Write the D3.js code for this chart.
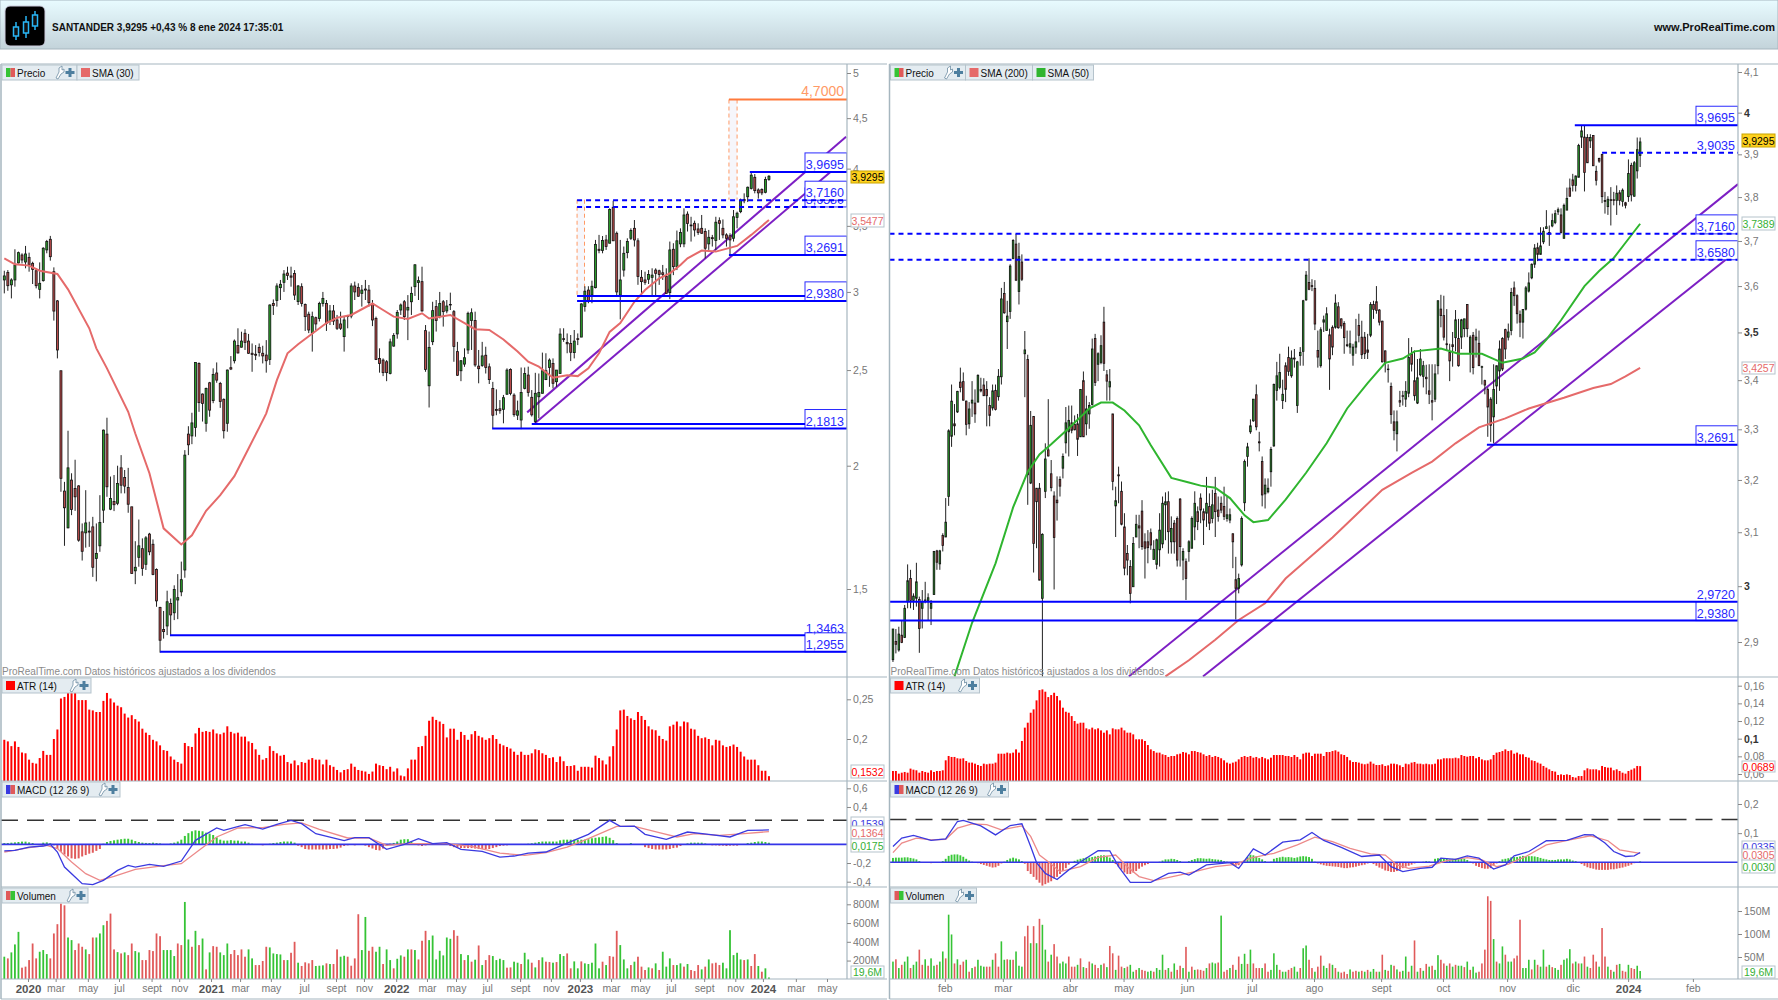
<!DOCTYPE html>
<html>
<head>
<meta charset="utf-8">
<script src="https://cdn.jsdelivr.net/npm/d3@7"></script>
<style>
  body { margin: 0; background: #fff; }
  text { font-family: "Liberation Sans", Arial, sans-serif; }
</style>
</head>
<body>
<div id="chart"></div>
<script>
// ---- weekly chart (left), one row per week: open, high, low, close
var leftOhlc = [
[3.085,3.152,2.99,3.114],[3.14,3.157,3.008,3.044],[3.05,3.097,2.955,3.085],[3.085,3.314,3.037,3.194],[3.21,3.296,3.206,3.288],[3.27,3.283,3.206,3.232],[3.217,3.34,3.17,3.278],[3.252,3.288,3.145,3.194],[3.207,3.219,3.056,3.162],[3.152,3.17,3.025,3.044],
[3.018,3.214,2.955,3.061],[3.08,3.33,3.073,3.322],[3.309,3.387,3.283,3.374],[3.392,3.419,3.227,3.257],[3.145,3.177,2.806,2.869],[2.938,2.944,2.569,2.62],[2.496,2.496,1.882,1.942],[1.885,1.926,1.659,1.813],[1.73,2.17,1.728,1.99],[1.934,1.965,1.782,1.806],
[1.896,2.028,1.8,1.86],[1.908,1.911,1.675,1.681],[1.714,1.748,1.603,1.638],[1.71,1.889,1.652,1.75],[1.717,1.755,1.655,1.713],[1.734,1.775,1.543,1.578],[1.611,1.748,1.527,1.63],[1.659,1.867,1.636,1.752],[1.803,2.176,1.75,2.173],[2.153,2.237,1.86,1.904],
[1.807,1.95,1.803,1.853],[1.84,1.957,1.799,1.826],[1.832,2.0,1.824,1.919],[1.99,2.05,1.875,1.911],[1.946,1.98,1.875,1.907],[1.901,1.99,1.792,1.828],[1.817,1.817,1.555,1.555],[1.565,1.677,1.517,1.578],[1.615,1.764,1.58,1.659],[1.648,1.688,1.547,1.574],
[1.589,1.697,1.568,1.69],[1.705,1.71,1.623,1.636],[1.665,1.684,1.549,1.552],[1.57,1.574,1.439,1.459],[1.437,1.439,1.293,1.331],[1.365,1.425,1.336,1.358],[1.376,1.494,1.347,1.456],[1.45,1.467,1.344,1.412],[1.419,1.513,1.395,1.498],[1.462,1.553,1.398,1.47],
[1.49,1.599,1.475,1.533],[1.568,2.074,1.54,2.05],[2.153,2.193,2.05,2.1],[2.144,2.263,2.103,2.21],[2.187,2.545,2.14,2.545],[2.539,2.545,2.268,2.317],[2.364,2.367,2.217,2.313],[2.208,2.4,2.165,2.395],[2.427,2.432,2.242,2.277],[2.328,2.51,2.314,2.475],
[2.483,2.545,2.427,2.442],[2.423,2.432,2.289,2.323],[2.335,2.34,2.131,2.17],[2.208,2.503,2.165,2.5],[2.514,2.583,2.5,2.506],[2.555,2.685,2.539,2.675],[2.648,2.756,2.598,2.602],[2.637,2.734,2.635,2.675],[2.724,2.75,2.62,2.667],[2.675,2.72,2.596,2.6],
[2.6,2.66,2.49,2.592],[2.594,2.65,2.559,2.588],[2.636,2.66,2.58,2.605],[2.6,2.646,2.539,2.584],[2.589,2.681,2.485,2.555],[2.563,2.914,2.53,2.91],[2.92,2.948,2.843,2.907],[2.94,3.061,2.899,3.042],[3.03,3.085,2.944,3.054],[3.068,3.157,3.0,3.128],
[3.135,3.182,3.085,3.118],[3.114,3.182,3.037,3.105],[3.132,3.157,2.944,2.978],[2.933,3.049,2.91,3.042],[3.037,3.061,2.899,2.92],[2.914,2.92,2.739,2.832],[2.848,2.865,2.725,2.745],[2.725,2.865,2.61,2.832],[2.825,2.832,2.745,2.784],[2.82,2.932,2.8,2.92],
[2.92,3.0,2.899,2.955],[2.92,2.944,2.739,2.788],[2.8,2.91,2.777,2.87],[2.87,2.91,2.777,2.803],[2.81,2.843,2.745,2.756],[2.784,2.865,2.745,2.756],[2.703,2.832,2.61,2.81],[2.832,2.843,2.756,2.836],[2.836,3.061,2.821,3.042],[3.042,3.073,2.944,3.0],
[3.032,3.061,2.967,2.97],[2.99,3.049,2.899,3.013],[3.02,3.085,2.944,3.013],[3.013,3.049,2.899,2.926],[2.92,2.944,2.77,2.81],[2.82,2.832,2.559,2.563],[2.569,2.63,2.485,2.539],[2.559,2.569,2.465,2.485],[2.549,2.559,2.436,2.485],[2.48,2.69,2.475,2.67],
[2.644,2.725,2.64,2.71],[2.72,2.876,2.69,2.86],[2.876,2.92,2.843,2.91],[2.932,2.944,2.81,2.832],[2.876,2.978,2.681,2.894],[2.932,3.037,2.843,2.99],[3.037,3.2,2.972,3.196],[3.067,3.11,2.944,3.08],[3.073,3.182,2.865,2.87],[2.741,2.777,2.49,2.504],
[2.41,2.735,2.291,2.636],[2.671,2.932,2.65,2.872],[2.899,2.944,2.735,2.806],[2.836,3.0,2.821,2.92],[2.932,2.944,2.767,2.865],[2.87,2.944,2.854,2.903],[2.914,2.995,2.876,2.91],[2.865,2.876,2.549,2.642],[2.61,2.67,2.466,2.47],[2.496,2.559,2.436,2.555],
[2.535,2.63,2.519,2.573],[2.62,2.865,2.596,2.854],[2.806,2.887,2.62,2.858],[2.806,2.865,2.519,2.53],[2.523,2.62,2.424,2.508],[2.527,2.67,2.519,2.584],[2.588,2.64,2.48,2.515],[2.519,2.539,2.42,2.445],[2.395,2.432,2.184,2.25],[2.281,2.39,2.25,2.275],
[2.284,2.331,2.258,2.274],[2.281,2.359,2.208,2.344],[2.363,2.51,2.36,2.5],[2.504,2.51,2.357,2.367],[2.358,2.368,2.242,2.253],[2.25,2.328,2.225,2.273],[2.225,2.515,2.178,2.373],[2.395,2.515,2.39,2.48],[2.471,2.52,2.35,2.373],[2.346,2.386,2.243,2.252],
[2.217,2.484,2.208,2.368],[2.349,2.48,2.234,2.372],[2.368,2.604,2.368,2.496],[2.445,2.6,2.442,2.496],[2.515,2.569,2.404,2.559],[2.539,2.569,2.395,2.424],[2.433,2.5,2.404,2.5],[2.48,2.756,2.48,2.719],[2.69,2.756,2.67,2.685],[2.666,2.723,2.6,2.658],
[2.66,2.713,2.553,2.606],[2.604,2.745,2.569,2.675],[2.69,2.723,2.65,2.685],[2.7,2.922,2.7,2.917],[2.9,3.04,2.865,3.005],[3.013,3.04,2.922,2.933],[2.978,3.08,2.922,3.04],[3.03,3.387,3.025,3.352],[3.314,3.427,3.283,3.304],[3.304,3.418,3.283,3.382],
[3.387,3.427,3.309,3.335],[3.361,3.646,3.361,3.637],[3.655,3.711,3.379,3.38],[3.44,3.454,2.978,3.0],[2.978,3.387,2.814,3.085],[3.157,3.335,3.109,3.283],[3.288,3.4,3.245,3.374],[3.4,3.48,3.387,3.462],[3.48,3.548,3.335,3.387],[3.38,3.4,3.05,3.11],
[3.104,3.157,2.99,3.073],[3.085,3.145,3.05,3.068],[3.09,3.157,3.056,3.125],[3.104,3.17,2.978,3.12],[3.157,3.17,2.978,3.133],[3.152,3.16,3.05,3.125],[3.137,3.195,3.085,3.125],[3.11,3.17,2.99,2.99],[2.995,3.374,2.95,3.309],[3.314,3.361,3.12,3.182],
[3.182,3.462,3.157,3.38],[3.356,3.48,3.33,3.447],[3.356,3.646,3.33,3.59],[3.597,3.62,3.454,3.52],[3.507,3.575,3.374,3.5],[3.521,3.543,3.414,3.467],[3.475,3.521,3.427,3.447],[3.48,3.59,3.435,3.44],[3.454,3.48,3.245,3.322],[3.356,3.467,3.309,3.408],
[3.405,3.427,3.335,3.397],[3.382,3.575,3.309,3.53],[3.543,3.57,3.387,3.521],[3.48,3.553,3.4,3.427],[3.427,3.44,3.335,3.4],[3.42,3.44,3.263,3.387],[3.4,3.632,3.374,3.575],[3.57,3.618,3.48,3.605],[3.618,3.73,3.605,3.717],[3.723,3.776,3.69,3.711],
[3.746,3.836,3.7,3.83],[3.82,3.9695,3.81,3.94],[3.92,3.95,3.776,3.8],[3.806,3.82,3.73,3.78],[3.81,3.82,3.76,3.78],[3.785,3.925,3.776,3.9],[3.9,3.94,3.888,3.9295]
];

var leftSmaIdx = [0,3,7,10,15,18,24,26,29,35,37,41,45,50,53,57,61,65,69,72,74,77,80,83,86,91,94,98,104,107,110,114,118,120,126,131,133,137,141,145,148,151,155,159,162,165,168,171,174,178,181,185,188,191,193,197,201,207,211,216];
var leftSmaVal = [3.245,3.2,3.19,3.152,3.128,3.018,2.756,2.63,2.51,2.268,2.156,1.965,1.728,1.664,1.7,1.8,1.867,1.952,2.082,2.186,2.26,2.442,2.6,2.655,2.705,2.79,2.825,2.843,2.92,2.876,2.832,2.817,2.854,2.82,2.843,2.777,2.75,2.745,2.685,2.61,2.549,2.52,2.456,2.47,2.465,2.51,2.6,2.733,2.79,2.932,3.013,3.097,3.133,3.195,3.245,3.304,3.296,3.34,3.427,3.5477];

var leftAtr = [.199,.197,.191,.197,.19,.183,.182,.174,.17,.169,.176,.185,.18,.18,.2,.212,.251,.253,.258,.262,.258,.249,.249,.249,.237,.236,.234,.234,.248,.258,
.251,.246,.242,.24,.232,.227,.23,.225,.222,.213,.208,.205,.199,.197,.192,.186,.185,.178,.174,.171,.169,.195,.191,.19,.207,.214,.209,.21,.209,.212,.207,.206,.208,.216,.209,.207,.208,.203,.203,.197,.195,.187,.18,.174,.176,.191,.185,.182,.179,.18,.171,.169,.173,.167,.171,.17,.174,.176,.174,.174,.168,.174,.167,.165,.161,.158,.161,.162,.169,.165,.161,.16,.159,.156,.159,.169,.167,.166,.162,.165,.159,.163,.154,.153,.163,.174,.174,.19,.191,.204,.223,.228,.224,.222,.219,.202,.213,.213,.199,.209,.205,.199,.206,.21,.204,.202,.199,.201,.205,.2,.194,.192,.19,.188,.184,.18,.184,.18,.18,.182,.187,.186,.182,.18,.176,.177,.171,.178,.172,.166,.166,.167,.16,.165,.165,.165,.164,.179,.176,.173,.168,.178,.191,.212,.236,.237,.229,.226,.224,.234,.229,.224,.216,.212,.211,.204,.2,.198,.216,.218,.222,.216,.222,.221,.213,.212,.204,.201,.202,.2,.192,.199,.198,.192,.19,.191,.193,.19,.184,.178,.174,.174,.174,.167,.16,.16,.1532];

var leftMacdIdx = [0,3,7,11,13,15,17,20,22,25,28,32,35,37,41,45,50,54,60,62,68,73,77,81,84,88,96,99,103,108,113,117,121,125,129,135,140,144,148,153,159,165,171,174,178,181,187,193,199,205,210,216];
var leftMacdVal = [-.071,-.064,-.029,-.018,0,-.082,-.243,-.35,-.421,-.432,-.386,-.279,-.225,-.243,-.214,-.236,-.179,.043,.175,.15,.211,.164,.214,.257,.221,.114,.039,.071,.071,-.054,0,.061,.007,.018,-.054,-.075,-.136,-.125,-.093,-.082,.014,.107,.257,.193,.196,.107,.054,.132,.107,.079,.15,.1539];
var leftSigIdx = [0,2,7,12,15,19,23,27,31,37,45,50,55,60,66,73,79,84,89,97,103,108,114,125,132,140,147,153,159,165,173,178,185,190,195,202,209,216];
var leftSigVal = [-.082,-.071,-.036,-.011,-.046,-.189,-.314,-.386,-.343,-.268,-.229,-.207,-.064,.079,.175,.179,.214,.229,.161,.068,.068,-.011,.007,.007,-.021,-.093,-.118,-.089,-.029,.061,.193,.193,.125,.079,.114,.096,.114,.1364];
var leftHist = [.014,.014,.018,.021,.025,.029,.029,.021,.014,-.004,0,.018,.021,.011,-.011,-.05,-.08,-.11,-.13,-.15,-.155,-.15,-.13,-.115,-.1,-.09,-.07,-.05,.007,.025,.036,.043,.05,.055,.06,.06,.05,.035,.025,.018,.015,.014,.018,.014,.01,.004,.004,.01,.018,.03,.05,.09,.12,.14,.15,.145,.14,.125,.115,.1,.075,.05,.04,.04,.045,.04,.04,.03,.03,.018,.007,0,-.004,-.011,-.007,.007,.014,.018,.025,.03,.03,.03,.018,-.015,-.03,-.05,-.055,-.055,-.055,-.055,-.055,-.055,-.05,-.05,-.045,-.035,-.018,-.011,-.007,-.011,-.004,0,-.014,-.03,-.045,-.06,-.065,-.045,-.018,.007,.015,.03,.05,.055,.055,.03,.007,-.011,-.018,-.011,0,.004,.004,.004,.004,-.007,-.018,-.03,-.035,-.04,-.04,-.04,-.04,-.045,-.05,-.05,-.05,-.05,-.04,-.03,-.018,-.014,-.011,-.007,0,0,.004,.004,.007,.011,.018,.025,.03,.03,.03,.03,.03,.043,.05,.05,.05,.05,.05,.05,.05,.055,.065,.07,.075,.08,.085,.07,.045,.014,0,0,0,.014,0,0,-.007,-.03,-.04,-.05,-.055,-.055,-.055,-.055,-.05,-.04,-.035,-.018,-.004,.011,.018,.018,.018,.018,.01,-.004,-.011,-.011,-.014,-.014,-.018,-.014,-.014,-.014,-.007,.004,.014,.018,.025,.03,.03,.025,.0175];

var leftVol = [241,223,287,372,506,124,135,205,382,223,294,312,269,223,489,588,807,789,446,418,312,382,347,319,269,446,446,489,577,623,701,319,290,276,287,258,382,301,287,205,205,312,301,489,460,312,312,312,248,382,365,825,425,347,517,365,435,106,287,354,347,287,258,382,269,312,258,319,241,319,223,152,152,195,347,340,276,269,265,205,205,283,400,177,142,181,170,205,142,145,149,170,163,163,319,241,251,241,145,223,694,312,665,304,347,294,347,163,319,205,117,219,255,241,319,319,312,212,411,517,418,467,212,304,255,446,432,524,464,269,205,258,188,209,361,152,205,258,248,205,219,205,124,127,188,177,163,283,212,177,127,205,234,188,184,177,184,269,248,276,117,191,117,191,170,163,177,382,117,188,152,248,241,517,365,212,117,152,188,241,135,99,127,117,170,99,294,135,223,152,152,170,135,163,99,88,152,106,135,212,170,177,152,177,117,524,258,283,212,205,212,142,269,142,81,117,19.6];
var leftVolColor = ("GRGGGRRRRR" + "GGGRRRRRGG" + "RRRGRRGGGR" + "RRGRGRRGGR" + "RRRRRGGGGR" + "RGGRGRGRGR" + "RGGGRRRRRG" + "GRRRRGGGGR" + "GRRGRRRRGG" + "GRGRRGGRRR" + "RGGRRGGRGG" + "RGGRGRGRRR" + "GGGGGGGRRG" + "RGRGRGRRGG" + "GGRRGGRGGR" + "GRGRRGRGGR" + "RGGRGGGGGR" + "GRRRGGGRGR" + "RRGRGRGGGR" + "GGRGRRRGRG" + "RRRGGGGGGR" + "GRRGRGG").split("");

// ---- daily chart (right), one row per session: open, high, low, close
var rightOhlc = [
[2.869,2.923,2.865,2.923],[2.901,2.923,2.88,2.896],[2.886,2.927,2.883,2.914],[2.912,2.939,2.898,2.899],[2.908,2.966,2.907,2.96],[2.972,3.04,2.96,3.01],[3.014,3.03,2.96,2.974],[2.974,2.987,2.957,2.982],[2.978,3.043,2.963,3.008],[2.976,2.981,2.881,2.924],
[2.96,2.993,2.924,2.972],[2.974,3.008,2.969,2.975],[2.974,2.987,2.939,2.979],[2.96,2.975,2.93,2.969],[2.985,3.065,2.984,3.064],[3.065,3.067,3.03,3.044],[3.041,3.067,3.03,3.065],[3.094,3.098,3.064,3.075],[3.091,3.165,3.091,3.119],[3.168,3.3,3.15,3.297],
[3.286,3.391,3.265,3.357],[3.311,3.351,3.288,3.307],[3.335,3.378,3.333,3.377],[3.396,3.426,3.375,3.385],[3.397,3.416,3.358,3.359],[3.357,3.358,3.288,3.31],[3.311,3.355,3.301,3.341],[3.353,3.398,3.325,3.359],[3.353,3.381,3.313,3.331],[3.355,3.412,3.355,3.41],
[3.381,3.405,3.375,3.378],[3.39,3.404,3.368,3.368],[3.381,3.398,3.306,3.368],[3.348,3.365,3.306,3.328],[3.343,3.391,3.338,3.378],[3.379,3.391,3.338,3.34],[3.366,3.423,3.358,3.408],[3.407,3.596,3.391,3.572],[3.584,3.609,3.54,3.542],[3.523,3.568,3.465,3.535],
[3.545,3.648,3.529,3.644],[3.661,3.704,3.659,3.701],[3.693,3.716,3.611,3.613],[3.588,3.696,3.56,3.665],[3.653,3.67,3.611,3.615],[3.455,3.503,3.365,3.463],[3.443,3.453,3.152,3.21],[3.194,3.337,3.192,3.308],[3.326,3.326,3.025,3.079],[3.184,3.184,3.07,3.158],
[3.184,3.194,3.011,3.011],[2.978,3.098,2.84,3.096],[3.178,3.272,3.165,3.241],[3.259,3.361,3.246,3.247],[3.212,3.239,3.178,3.185],[3.169,3.178,2.994,3.09],[3.161,3.207,3.122,3.156],[3.201,3.207,3.168,3.188],[3.223,3.252,3.203,3.246],[3.273,3.345,3.252,3.313],
[3.295,3.348,3.246,3.318],[3.313,3.348,3.292,3.298],[3.31,3.328,3.298,3.299],[3.311,3.331,3.247,3.28],[3.285,3.381,3.285,3.381],[3.399,3.418,3.285,3.285],[3.311,3.368,3.288,3.341],[3.331,3.355,3.301,3.348],[3.35,3.487,3.348,3.465],[3.487,3.497,3.388,3.395],
[3.433,3.458,3.398,3.455],[3.437,3.494,3.433,3.472],[3.522,3.555,3.419,3.435],[3.411,3.421,3.358,3.398],[3.386,3.423,3.358,3.397],[3.331,3.331,3.18,3.197],[3.15,3.187,3.091,3.16],[3.21,3.226,3.155,3.208],[3.178,3.197,3.113,3.115],[3.11,3.136,3.02,3.033],
[3.06,3.076,3.02,3.048],[3.036,3.048,2.969,2.987],[2.999,3.091,2.999,3.079],[3.091,3.133,3.091,3.115],[3.112,3.133,3.07,3.108],[3.14,3.161,3.067,3.073],[3.082,3.098,3.014,3.07],[3.082,3.104,3.042,3.071],[3.099,3.107,3.067,3.076],[3.049,3.085,3.049,3.068],
[3.04,3.088,3.031,3.086],[3.067,3.136,3.036,3.104],[3.078,3.168,3.07,3.155],[3.152,3.176,3.085,3.158],[3.158,3.178,3.06,3.101],[3.082,3.13,3.06,3.107],[3.117,3.123,3.06,3.082],[3.126,3.13,3.036,3.048],[3.163,3.165,3.036,3.073],[3.048,3.07,3.011,3.064],
[3.045,3.051,2.975,3.014],[3.064,3.085,3.045,3.082],[3.07,3.13,3.07,3.126],[3.11,3.178,3.085,3.155],[3.139,3.149,3.104,3.12],[3.165,3.174,3.117,3.142],[3.139,3.145,3.076,3.123],[3.136,3.206,3.11,3.155],[3.149,3.174,3.104,3.117],[3.126,3.181,3.117,3.152],
[3.174,3.206,3.091,3.139],[3.142,3.168,3.12,3.13],[3.155,3.168,3.136,3.142],[3.149,3.187,3.123,3.13],[3.126,3.168,3.12,3.133],[3.123,3.145,3.117,3.133],[3.097,3.098,3.033,3.082],[3.012,3.054,2.94,2.996],[2.996,3.023,2.987,3.014],[3.039,3.13,3.036,3.126],
[3.156,3.24,3.14,3.236],[3.246,3.273,3.226,3.265],[3.295,3.32,3.291,3.307],[3.317,3.361,3.315,3.361],[3.37,3.391,3.298,3.305],[3.275,3.295,3.256,3.273],[3.236,3.246,3.149,3.171],[3.173,3.203,3.145,3.19],[3.177,3.203,3.174,3.184],[3.216,3.265,3.187,3.26],
[3.267,3.393,3.265,3.391],[3.379,3.438,3.358,3.409],[3.385,3.455,3.381,3.416],[3.358,3.401,3.341,3.371],[3.43,3.437,3.355,3.381],[3.447,3.47,3.409,3.418],[3.409,3.462,3.405,3.446],[3.446,3.465,3.426,3.444],[3.348,3.44,3.333,3.438],[3.451,3.469,3.43,3.458],
[3.46,3.57,3.43,3.568],[3.57,3.633,3.568,3.624],[3.608,3.661,3.591,3.593],[3.601,3.615,3.589,3.599],[3.595,3.613,3.505,3.518],[3.462,3.504,3.426,3.448],[3.43,3.511,3.426,3.506],[3.522,3.536,3.501,3.527],[3.504,3.554,3.504,3.54],[3.495,3.508,3.38,3.444],
[3.511,3.515,3.452,3.469],[3.511,3.582,3.508,3.563],[3.555,3.565,3.508,3.51],[3.529,3.53,3.508,3.514],[3.519,3.524,3.455,3.489],[3.474,3.504,3.469,3.472],[3.469,3.504,3.455,3.476],[3.452,3.476,3.43,3.469],[3.469,3.529,3.455,3.48],[3.515,3.54,3.479,3.494],
[3.49,3.525,3.444,3.453],[3.49,3.501,3.444,3.455],[3.463,3.497,3.444,3.458],[3.494,3.565,3.49,3.56],[3.56,3.568,3.529,3.549],[3.566,3.6,3.54,3.547],[3.548,3.55,3.515,3.522],[3.524,3.525,3.437,3.438],[3.461,3.462,3.416,3.436],[3.423,3.433,3.395,3.422],
[3.387,3.395,3.311,3.33],[3.315,3.338,3.278,3.298],[3.291,3.338,3.256,3.315],[3.358,3.378,3.345,3.355],[3.368,3.378,3.348,3.367],[3.361,3.398,3.345,3.377],[3.373,3.488,3.365,3.447],[3.455,3.469,3.418,3.433],[3.399,3.462,3.358,3.368],[3.353,3.444,3.351,3.405],
[3.411,3.465,3.408,3.444],[3.408,3.44,3.385,3.43],[3.406,3.432,3.371,3.403],[3.378,3.433,3.351,3.371],[3.358,3.433,3.318,3.355],[3.361,3.433,3.355,3.413],[3.43,3.569,3.412,3.568],[3.55,3.581,3.511,3.536],[3.536,3.579,3.483,3.49],[3.476,3.55,3.462,3.474],
[3.458,3.476,3.398,3.44],[3.474,3.501,3.428,3.47],[3.489,3.548,3.46,3.527],[3.487,3.529,3.428,3.43],[3.49,3.529,3.465,3.527],[3.508,3.529,3.49,3.529],[3.56,3.561,3.49,3.508],[3.458,3.494,3.416,3.49],[3.494,3.501,3.412,3.426],[3.484,3.508,3.447,3.49],
[3.477,3.504,3.43,3.43],[3.428,3.43,3.391,3.428],[3.399,3.401,3.371,3.39],[3.381,3.385,3.285,3.345],[3.361,3.365,3.275,3.308],[3.325,3.433,3.272,3.381],[3.388,3.43,3.351,3.43],[3.419,3.483,3.378,3.465],[3.487,3.49,3.419,3.423],[3.506,3.508,3.444,3.465],
[3.49,3.519,3.483,3.501],[3.504,3.596,3.494,3.586],[3.596,3.61,3.557,3.579],[3.579,3.582,3.519,3.54],[3.538,3.547,3.49,3.522],[3.522,3.55,3.487,3.549],[3.55,3.6,3.547,3.596],[3.589,3.63,3.586,3.607],[3.618,3.65,3.615,3.648],[3.648,3.693,3.64,3.684],
[3.685,3.696,3.655,3.67],[3.67,3.731,3.67,3.689],[3.698,3.731,3.693,3.722],[3.728,3.77,3.727,3.732],[3.719,3.735,3.689,3.715],[3.734,3.762,3.731,3.746],[3.742,3.77,3.738,3.762],[3.766,3.776,3.759,3.771],[3.759,3.774,3.717,3.719],[3.706,3.785,3.706,3.781],
[3.77,3.822,3.771,3.797],[3.821,3.843,3.801,3.802],[3.84,3.854,3.813,3.827],[3.827,3.85,3.813,3.849],[3.846,3.925,3.846,3.921],[3.941,3.968,3.915,3.956],[3.941,3.968,3.813,3.857],[3.94,3.948,3.88,3.88],[3.932,3.948,3.915,3.94],[3.945,3.946,3.873,3.873],
[3.86,3.873,3.827,3.839],[3.89,3.892,3.88,3.884],[3.9,3.9,3.786,3.801],[3.792,3.812,3.762,3.79],[3.778,3.802,3.759,3.795],[3.794,3.823,3.735,3.792],[3.794,3.812,3.781,3.792],[3.792,3.827,3.759,3.809],[3.81,3.816,3.781,3.792],[3.79,3.82,3.778,3.816],
[3.787,3.789,3.774,3.781],[3.801,3.888,3.789,3.855],[3.874,3.88,3.79,3.805],[3.802,3.884,3.801,3.88],[3.861,3.94,3.843,3.911],[3.897,3.94,3.87,3.9295]
];

var rightRedIdx = [93,101,110,118,127,134,142,150,159,167,177,184,192,200,209,217,229,239,245,250,255];
var rightRedVal = [2.84,2.868,2.904,2.939,2.969,3.014,3.052,3.09,3.138,3.181,3.214,3.236,3.272,3.304,3.322,3.342,3.364,3.384,3.392,3.408,3.4257];
var rightGreenIdx = [21,27,35,41,46,50,54,60,67,71,75,79,84,88,95,101,105,110,115,120,123,128,134,141,148,155,162,168,174,178,187,193,201,208,215,219,223,228,236,241,246,250,255];
var rightGreenVal = [2.84,2.934,3.042,3.147,3.216,3.25,3.27,3.302,3.342,3.354,3.354,3.338,3.308,3.268,3.204,3.195,3.189,3.185,3.165,3.132,3.119,3.123,3.162,3.214,3.272,3.342,3.394,3.436,3.445,3.46,3.466,3.455,3.455,3.436,3.445,3.458,3.485,3.526,3.6,3.633,3.662,3.696,3.7389];

var rightAtr = [.0634,.0634,.0604,.0615,.0623,.0615,.0661,.0649,.0642,.0615,.0634,.0623,.0615,.0642,.0623,.0634,.0634,.0642,
.0755,.0804,.0793,.0793,.0778,.0774,.0778,.0747,.0729,.0729,.0717,.0702,.0691,.0717,.071,.0717,.0717,.0729,.083,.083,.083,.0842,.0834,.0842,.0879,.0842,.0974,.1125,.1181,.1294,.1332,.1434,.155,.1558,.1532,.1471,.1494,.152,.1483,.1434,.1351,.1305,.1294,.1256,.12,.117,.1181,.1181,.1117,.1106,.1125,.1106,.1117,.1094,.1068,.1094,.1049,.1117,.1106,.1106,.1125,.1094,.1068,.1068,.1049,.0993,.0993,.0993,.0974,.0928,.0879,.086,.0842,.0842,.0823,.0815,.0793,.0804,.0804,.0823,.083,.0849,.0842,.0823,.086,.086,.0849,.0842,.0823,.0804,.0815,.0793,.0804,.0793,.0778,.0755,.0729,.0717,.0729,.074,.0766,.0793,.0804,.0793,.0804,.0785,.0793,.0778,.0793,.0778,.0766,.0785,.0815,.0815,.0815,.0815,.0804,.0804,.0793,.0815,.0793,.0766,.083,.0842,.0842,.0804,.083,.083,.083,.0804,.0849,.0849,.086,.0868,.0853,.0823,.0815,.0793,.0755,.0736,.0736,.0729,.0717,.071,.0717,.074,.0717,.0702,.0702,.071,.0691,.0698,.0717,.0717,.071,.0698,.0679,.0717,.071,.0729,.0736,.0717,.0717,.071,.0717,.071,.071,.0717,.0766,.0766,.0778,.0778,.0778,.0778,.0785,.0778,.0815,.0804,.0796,.0804,.0804,.0778,.0793,.0766,.0755,.0755,.0766,.0815,.0842,.0849,.086,.0879,.086,.0868,.083,.0842,.0823,.0823,.0793,.0785,.0755,.0747,.0729,.0717,.0691,.0672,.0653,.0634,.0627,.0589,.0596,.0589,.0596,.0589,.0566,.0559,.0577,.0577,.0642,.0664,.0653,.0653,.0653,.0642,.0691,.0679,.0672,.0672,.0642,.0653,.0634,.0615,.0604,.0634,.0649,.0664,.0691,.0689];

var rightMacdIdx = [0,3,7,13,18,22,24,30,35,40,44,47,49,52,56,60,65,70,74,77,81,88,94,98,101,107,115,118,123,127,133,139,143,147,153,160,166,170,174,180,184,187,192,196,200,205,209,212,217,223,230,236,239,243,246,250,253,255];
var rightMacdVal = [.054,.083,.092,.075,.08,.14,.144,.125,.094,.126,.132,.054,-.001,-.038,-.059,-.026,.008,.04,.039,-.015,-.069,-.069,-.038,-.034,-.044,-.009,-.001,-.021,.046,.025,.069,.077,.102,.075,.051,.02,.025,-.015,-.032,-.021,-.017,.014,.01,.022,.014,-.023,-.009,.022,.037,.074,.075,.095,.094,.066,.037,.02,.022,.0335];
var rightSigIdx = [0,3,8,13,18,22,27,32,37,44,47,50,53,57,64,70,76,80,84,89,97,103,110,117,122,130,138,144,150,156,163,168,172,176,183,189,196,201,206,210,216,223,231,238,244,248,255];
var rightSigVal = [.033,.066,.083,.077,.079,.117,.132,.129,.111,.125,.089,.025,.002,-.032,-.015,.017,.025,-.015,-.049,-.063,-.046,-.032,-.015,-.007,.014,.031,.06,.086,.071,.048,.029,.025,-.009,-.021,-.013,.006,.016,.008,-.015,-.006,.02,.06,.077,.091,.074,.043,.0305];
var rightHist = [.015,.016,.016,.016,.017,.017,.015,.013,.01,.004,0,0,-.002,-.003,-.001,.001,0,.004,.012,.022,.026,.027,.027,.024,.019,.012,.006,.002,0,-.003,-.006,-.009,-.012,-.015,-.018,-.017,-.012,-.004,.002,.008,.013,.016,.013,.01,.004,-.005,-.03,-.04,-.05,-.06,-.07,-.08,-.075,-.07,-.065,-.055,-.05,-.04,-.03,-.02,-.008,0,.005,.009,.012,.014,.016,.016,.018,.02,.022,.024,.024,.022,.016,.008,-.006,-.015,-.025,-.035,-.04,-.04,-.035,-.03,-.022,-.015,-.01,-.006,-.002,0,0,.002,.006,.01,.01,.012,.011,.008,.004,0,0,.004,.008,.011,.014,.014,.013,.012,.013,.011,.01,.009,.008,.004,.002,-.002,-.006,-.012,-.01,-.004,.006,.018,.026,.024,.02,.015,.01,.004,0,.002,.012,.015,.017,.019,.017,.018,.017,.015,.017,.02,.021,.02,.018,.012,.002,-.004,-.007,-.01,-.012,-.013,-.014,-.015,-.016,-.018,-.02,-.02,-.018,-.017,-.015,-.012,-.01,-.008,-.004,-.002,-.006,-.012,-.018,-.022,-.028,-.03,-.033,-.033,-.03,-.025,-.02,-.015,-.012,-.008,-.004,0,0,.002,.004,.003,0,.012,.014,.015,.014,.013,.01,.012,.012,.014,.013,.012,.008,.002,-.004,-.012,-.016,-.02,-.022,-.022,-.02,-.012,-.004,.004,.01,.012,.014,.017,.018,.018,.02,.022,.021,.021,.021,.02,.018,.015,.012,.01,.008,.008,.008,.01,.01,.01,.012,.01,.006,.004,0,-.006,-.012,-.017,-.02,-.022,-.025,-.026,-.026,-.026,-.026,-.024,-.024,-.022,-.02,-.018,-.015,-.012,-.008,-.003,0,.003];

var rightVol = [40,45,26,33,40,51,26,33,40,66,
33,45,31,47,31,33,40,62,47,142,
99,36,45,33,40,44,18,26,29,44,
31,29,29,29,44,58,29,84,44,45,
44,44,62,31,29,95,118,80,117,80,
133,120,66,40,55,78,51,36,40,36,
51,29,29,33,47,28,26,40,36,
33,26,33,36,28,74,58,22,53,29,
26,29,33,18,22,26,22,20,18,20,
18,26,22,55,22,26,18,36,22,31,
26,72,18,29,22,23,22,20,26,36,
38,36,38,140,18,22,26,33,22,51,
35,57,35,66,36,26,26,26,36,18,
22,58,33,22,18,18,22,26,29,18,
26,69,75,44,26,18,29,53,31,26,
36,33,26,18,16,18,13,23,18,20,
18,20,18,22,18,24,18,18,55,22,
20,33,31,23,18,20,51,18,31,86,
18,26,20,35,29,31,22,54,44,
36,31,36,29,33,31,31,28,40,22,
29,16,18,36,66,182,172,89,40,36,
73,55,40,40,47,53,131,26,26,44,
23,44,33,29,66,29,33,28,26,22,
33,44,47,67,36,40,36,36,51,
29,26,55,40,29,113,51,29,22,18,
33,35,20,18,33,26,24,31,19.6];
var rightVolColor = ("GRGRGGRGGR" + "RGRGGRGGRG" + "GRGRRGRGRG" + "GGRRGRRGGR" + "GRGGGRRGRG" + "RGGRGRRGGG" + "RRRGRGRRG" + "RRGRGRRGRR" + "GRGGRGRRGG" + "RGGGRGRGRR" + "GRGRGRRRGR" + "GGRGRRGRGR" + "GGRGRRRGRR" + "GGGRGGRRGG" + "RGGRRGRRGG" + "RGRGRRRGRR" + "GRGRGGRGRG" + "RGRGRGGRGR" + "GRGRGRGGR" + "RGRGRGGRGR" + "GGRRRRRGRG" + "GRGGRRRGGG" + "RGRGGRGRGG" + "RGGGRGRGR" + "GRRRGRRGRG" + "RGRRGRRGG").split("");

// ---- tick labels
var leftDateIdx = [6.7,14.5,23.6,32.4,41.6,49.4,58.4,66.6,75.3,84.7,93.7,101.6,110.7,119.4,127.6,136.4,145.7,154.4,162.6,171.4,179.6,188.3,197.7,206.5,214.3,223.6,232.4];
var leftDateText = ["2020","mar","may","jul","sept","nov","2021","mar","may","jul","sept","nov","2022","mar","may","jul","sept","nov","2023","mar","may","jul","sept","nov","2024","mar","may"];
var rightDateIdx = [17.7,37.5,60.4,78.7,100.4,122.5,143.7,166.6,187.7,209.6,232,250.9,273];
var rightDateText = ["feb","mar","abr","may","jun","jul","ago","sept","oct","nov","dic","2024","feb"];

var leftPriceTicks = [5,4.5,4,3.5,3,2.5,2,1.5];
var rightPriceTicks = [4.1,4,3.9,3.8,3.7,3.6,3.5,3.4,3.3,3.2,3.1,3,2.9];
var leftAtrTicks = [.25,.2];
var rightAtrTicks = [.16,.14,.12,.1,.08,.06];
var leftMacdTicks = [.6,.4,-.2,-.4];
var rightMacdTicks = [.2,.1];
var leftVolTicks = [800,600,400,200];
var rightVolTicks = [150,100,50];

// ---- drawn levels and trendlines (price, first bar)
var leftLevels = [1.2955,1.3463,2.1813,2.205,2.938,2.972,3.2691,3.658,3.716,3.9695];
var leftLevelStart = [44,46.8,137.8,149,161.8,161.8,204.7,161.8,161.8,210.6];
var rightLevels = [2.938,2.972,3.2691,3.658,3.716,3.9035,3.9695];
var rightLevelStart = [-2,-2,202.7,-2,-2,242,232.7];
var leftTrend = [[147.7,2.265,237.8,4.31],[149.9,2.208,238,4.1]];
var rightTrend = [[80.5,2.84,288.4,3.83],[105.8,2.84,288.4,3.68]];

var svg = d3.select("#chart").append("svg").attr("width", 1778).attr("height", 1000);
var defs = svg.append("defs");

var headGrad = defs.append("linearGradient").attr("id", "headGrad").attr("x1", 0).attr("y1", 0).attr("x2", 0).attr("y2", 1);
headGrad.append("stop").attr("offset", "0%").attr("stop-color", "#e8fbff");
headGrad.append("stop").attr("offset", "100%").attr("stop-color", "#c3d3da");

var frame = "#a6b6bf", red = "#ff0000", upGreen = "#2db52d", downRed = "#e05a5a", boxBlue = "#2a2aff";
var comma = function(v) { return String(+v).replace(".", ","); };

// header
svg.append("rect").attr("width", 1778).attr("height", 49).attr("fill", "url(#headGrad)").attr("stroke", frame);
svg.append("rect").attr("x", 5).attr("y", 6).attr("width", 40).attr("height", 40).attr("rx", 5).attr("fill", "#000").attr("stroke", "#ccd");
[[16, 22, 40, 27, 36], [26, 16, 38, 22, 33], [35, 11, 30, 15, 26]].forEach(function(c) {
  svg.append("line").attr("x1", c[0]).attr("x2", c[0]).attr("y1", c[1]).attr("y2", c[2]).attr("stroke", "#29b6f6").attr("stroke-width", 1.5);
  svg.append("rect").attr("x", c[0] - 2.5).attr("y", c[3]).attr("width", 5).attr("height", c[4] - c[3]).attr("fill", "#111").attr("stroke", "#29b6f6").attr("stroke-width", 1.5);
});
svg.append("text").attr("x", 52).attr("y", 31).attr("font-size", 10).attr("font-weight", "bold").attr("fill", "#111").text("SANTANDER 3,9295 +0,43 % 8 ene 2024 17:35:01");
svg.append("text").attr("x", 1775).attr("y", 31).attr("text-anchor", "end").attr("font-size", 11).attr("font-weight", "bold").attr("fill", "#111").text("www.ProRealTime.com");

function legend(x, y, parts) {
  var g = svg.append("g");
  var cx = x;
  parts.forEach(function(p) {
    var w = p.w;
    g.append("rect").attr("x", cx).attr("y", y).attr("width", w).attr("height", 15).attr("fill", "#e4ecf1").attr("stroke", "#b5c3cc");
    if (p.swatch.length == 2) {
      g.append("rect").attr("x", cx + 4).attr("y", y + 3).attr("width", 4.5).attr("height", 9).attr("fill", p.swatch[0]);
      g.append("rect").attr("x", cx + 8.5).attr("y", y + 3).attr("width", 4.5).attr("height", 9).attr("fill", p.swatch[1]);
    } else {
      g.append("rect").attr("x", cx + 4).attr("y", y + 3).attr("width", 9).attr("height", 9).attr("fill", p.swatch[0]);
    }
    g.append("text").attr("x", cx + 15).attr("y", y + 11.5).attr("font-size", 10).attr("fill", "#111").text(p.label);
    if (p.icons) {
      var ix = cx + w - 23;
      g.append("path").attr("d", "M" + (ix + 2) + "," + (y + 13) + "l3,-6v-4l3,-2v4l2,-1v3l-3,2l-3,5z").attr("fill", "#fff").attr("stroke", "#6f8ea3").attr("stroke-width", .8);
      g.append("path").attr("d", "M" + (ix + 16) + "," + (y + 3) + "v9M" + (ix + 11.5) + "," + (y + 7.5) + "h9").attr("stroke", "#4e7f9f").attr("stroke-width", 3);
    }
    cx += w;
  });
}

function tag(x, y, w, h, label, color, bg, border) {
  svg.append("rect").attr("x", x).attr("y", y).attr("width", w).attr("height", h).attr("fill", bg).attr("stroke", border);
  svg.append("text").attr("x", x + w / 2).attr("y", y + h / 2 + 4).attr("text-anchor", "middle").attr("font-size", 10.5).attr("fill", color).text(label);
}

function axisStyle(g, boldValues) {
  g.select(".domain").remove();
  g.selectAll(".tick line").attr("stroke", "#888");
  g.selectAll(".tick text").attr("fill", "#777").attr("font-size", 10.5)
    .attr("font-family", '"Liberation Sans", Arial, sans-serif');
  if (boldValues) {
    g.selectAll(".tick text").filter(function(d) { return boldValues.indexOf(d) >= 0; })
      .attr("fill", "#333").attr("font-weight", "bold");
  }
}

function drawPanel(c) {
  var id = c.name;
  var y0 = 64, y1 = 677, y2 = 781, y3 = 887, y4 = 979;

  function clip(suffix, top, bottom) {
    var cid = id + suffix;
    defs.append("clipPath").attr("id", cid).append("rect").attr("x", c.left).attr("y", top).attr("width", c.right - c.left).attr("height", bottom - top);
    return svg.append("g").attr("clip-path", "url(#" + cid + ")");
  }

  var x = d3.scaleLinear().domain(c.xDomain).range(c.xRange);
  var yPrice = d3.scaleLog().domain(c.priceDomain).range(c.priceRange);
  var yAtr = d3.scaleLinear().domain(c.atrDomain).range(c.atrRange);
  var yMacd = d3.scaleLinear().domain(c.macdDomain).range(c.macdRange);
  var yVol = d3.scaleLinear().domain(c.volDomain).range(c.volRange);

  // price pane: light strips behind the measuring lines
  var price = clip("p", y0, y1);
  if (c.bands) {
    c.bands.forEach(function(b) {
      price.append("rect").attr("x", x(b[0])).attr("width", x(b[1]) - x(b[0])).attr("y", yPrice(b[2])).attr("height", yPrice(b[3]) - yPrice(b[2])).attr("fill", "#f6f6fb");
      [b[0], b[1]].forEach(function(v) {
        price.append("line").attr("x1", x(v)).attr("x2", x(v)).attr("y1", yPrice(b[2])).attr("y2", yPrice(b[3]))
          .attr("stroke", "#ff9a66").attr("stroke-dasharray", "4,3");
      });
    });
  }

  // trendlines
  c.trend.forEach(function(t) {
    price.append("line").attr("x1", x(t[0])).attr("y1", yPrice(t[1])).attr("x2", x(t[2])).attr("y2", yPrice(t[3]))
      .attr("stroke", "#7d1fc4").attr("stroke-width", 2);
  });

  // candles
  var candle = price.selectAll(".candle").data(c.ohlc).enter().append("g").attr("class", "candle");
  candle.append("line")
    .attr("x1", function(d, i) { return x(i); }).attr("x2", function(d, i) { return x(i); })
    .attr("y1", function(d) { return yPrice(d[1]); }).attr("y2", function(d) { return yPrice(d[2]); })
    .attr("stroke", "#222").attr("stroke-width", 1);
  candle.append("rect")
    .attr("x", function(d, i) { return x(i) - c.bodyW / 2; })
    .attr("width", c.bodyW)
    .attr("y", function(d) { return yPrice(Math.max(d[0], d[3])); })
    .attr("height", function(d) { return Math.max(.6, yPrice(Math.min(d[0], d[3])) - yPrice(Math.max(d[0], d[3]))); })
    .attr("fill", function(d) { return d[3] >= d[0] ? "#2a9d2a" : "#b84a4a"; })
    .attr("stroke", "#111").attr("stroke-width", .8);

  // moving averages
  var lineP = d3.line().x(function(d) { return x(d[0]); }).y(function(d) { return yPrice(d[1]); });
  c.smas.forEach(function(s) {
    price.append("path").attr("d", lineP(d3.zip(s.idx, s.val))).attr("fill", "none").attr("stroke", s.color).attr("stroke-width", 2);
  });

  // horizontal levels, lowest first so a higher box can cover the one below it
  c.levels.forEach(function(v, i) {
    var ly = yPrice(v);
    var dashed = c.dashed.indexOf(v) >= 0;
    var isBoxed = c.boxed.indexOf(v) >= 0;
    if (isBoxed) {
      price.append("rect").attr("x", c.right - 42).attr("y", ly - 19).attr("width", 42).attr("height", 19).attr("fill", "#fff").attr("stroke", "#2a2aff");
    }
    price.append("line").attr("x1", Math.max(x(c.levelStart[i]), c.left))
      .attr("x2", c.shortLines.indexOf(v) >= 0 ? c.right - 42 : c.right).attr("y1", ly).attr("y2", ly)
      .attr("stroke", "#0000ff").attr("stroke-width", 2).attr("stroke-dasharray", dashed ? "5,4" : null);
    if (isBoxed || c.labeled.indexOf(v) >= 0) {
      price.append("text").attr("x", c.right - 3).attr("y", ly - 2.8).attr("text-anchor", "end").attr("font-size", 12.5).attr("fill", boxBlue)
        .text(v.toFixed(4).replace(".", ","));
    }
  });
  if (c.target) {
    var ty = yPrice(c.target[0]);
    price.append("line").attr("x1", x(c.target[1])).attr("x2", c.right).attr("y1", ty).attr("y2", ty).attr("stroke", "#ff7a3c").attr("stroke-width", 2);
    price.append("text").attr("x", c.right - 3).attr("y", ty - 4).attr("text-anchor", "end").attr("font-size", 14).attr("fill", "#ff9a66").text(c.target[0].toFixed(4).replace(".", ","));
  }
  svg.append("text").attr("x", c.left + 1).attr("y", 675).attr("font-size", 10).attr("fill", "#8a8a8a").text("ProRealTime.com  Datos históricos ajustados a los dividendos");

  // ATR
  var atr = clip("a", y1, y2);
  atr.selectAll("rect").data(c.atr).enter().append("rect")
    .attr("x", function(d, i) { return x(i) - c.barW / 2; }).attr("width", c.barW)
    .attr("y", function(d) { return yAtr(d); }).attr("height", function(d) { return y2 - yAtr(d); })
    .attr("fill", red);

  // MACD
  var macd = clip("m", y2, y3);
  macd.selectAll(".hist").data(c.hist).enter().append("rect").attr("class", "hist")
    .attr("x", function(d, i) { return x(i) - c.barW / 2; }).attr("width", c.barW)
    .attr("y", function(d) { return yMacd(Math.max(d, 0)); }).attr("height", function(d) { return Math.abs(yMacd(d) - yMacd(0)); })
    .attr("fill", function(d) { return d >= 0 ? "#38c838" : downRed; });
  macd.append("line").attr("x1", c.left).attr("x2", c.right).attr("y1", yMacd(0)).attr("y2", yMacd(0)).attr("stroke", "#3535e8").attr("stroke-width", 1.6);
  macd.append("line").attr("x1", c.left).attr("x2", c.right).attr("y1", yMacd(c.macdDash)).attr("y2", yMacd(c.macdDash)).attr("stroke", "#333").attr("stroke-width", 1.5).attr("stroke-dasharray", "17,9");
  var lineM = d3.line().x(function(d) { return x(d[0]); }).y(function(d) { return yMacd(d[1]); });
  macd.append("path").attr("d", lineM(d3.zip(c.sigIdx, c.sigVal))).attr("fill", "none").attr("stroke", "#ec8a8a").attr("stroke-width", 1.3);
  macd.append("path").attr("d", lineM(d3.zip(c.macdIdx, c.macdVal))).attr("fill", "none").attr("stroke", "#3a3ae0").attr("stroke-width", 1.3);

  // volume
  var vol = clip("v", y3, y4);
  vol.selectAll("rect").data(c.vol).enter().append("rect")
    .attr("x", function(d, i) { return x(i) - c.volW / 2; }).attr("width", c.volW)
    .attr("y", function(d) { return yVol(d); }).attr("height", function(d) { return y4 - yVol(d); })
    .attr("fill", function(d, i) { return c.volColor[i] == "G" ? "#35c335" : downRed; });

  // frame
  [y0, y1, y2, y3, y4, 999].forEach(function(h) {
    svg.append("line").attr("x1", c.left).attr("x2", c.axisEnd).attr("y1", h).attr("y2", h).attr("stroke", frame).attr("stroke-width", 1.2);
  });
  svg.append("line").attr("x1", c.left).attr("x2", c.left).attr("y1", y0).attr("y2", 999).attr("stroke", frame).attr("stroke-width", 1.5);
  svg.append("line").attr("x1", c.right).attr("x2", c.right).attr("y1", y0).attr("y2", y4).attr("stroke", frame).attr("stroke-width", 1.2);

  // axes
  var ax = function(scale, ticks, fmt, bold) {
    svg.append("g").attr("transform", "translate(" + c.right + ",0)")
      .call(d3.axisRight(scale).tickValues(ticks).tickSize(4).tickPadding(2).tickFormat(fmt))
      .call(axisStyle, bold);
  };
  ax(yPrice, c.priceTicks, comma, c.boldPrice);
  ax(yAtr, c.atrTicks, comma, c.boldAtr);
  ax(yMacd, c.macdTicks, comma);
  ax(yVol, c.volTicks, function(v) { return v + "M"; });

  var dateAxis = svg.append("g").attr("transform", "translate(0," + y4 + ")")
    .call(d3.axisBottom(d3.scaleLinear().domain(c.xDomain).range(c.xRange)).tickValues(c.dateIdx).tickSize(3).tickPadding(3)
      .tickFormat(function(d, i) { return c.dateText[i]; }));
  axisStyle(dateAxis);
  dateAxis.selectAll(".tick text").each(function() {
    var t = d3.select(this);
    if (/^20/.test(t.text())) t.attr("font-weight", "bold").attr("font-size", 11.5).attr("fill", "#555");
  });

  legend(c.left + 1, 65, c.priceLegend);
  legend(c.left + 1, 678, [{ w: 89, swatch: [red], label: "ATR (14)", icons: true }]);
  legend(c.left + 1, 782, [{ w: 118, swatch: ["#3a3ae0", "#e05a5a"], label: "MACD (12 26 9)", icons: true }]);
  legend(c.left + 1, 888, [{ w: 86, swatch: ["#e05a5a", "#35c335"], label: "Volumen", icons: true }]);

  c.tags.forEach(function(t) { tag(c.right + 4, t[0], 33, t[1], t[2], t[3], t[4], t[5]); });
}

drawPanel({
  name: "left", left: 1, right: 847, axisEnd: 887,
  xDomain: [0, 240], xRange: [4.3, 853.9], bodyW: 2, barW: 2, volW: 1.8,
  priceDomain: [5, 1.5], priceRange: [73, 589],
  atrDomain: [.25, .2], atrRange: [699.3, 739],
  macdDomain: [.6, -.4], macdRange: [788.3, 881.7], macdDash: .257,
  volDomain: [800, 0], volRange: [904.3, 979.3],
  ohlc: leftOhlc, atr: leftAtr, hist: leftHist, vol: leftVol, volColor: leftVolColor,
  smas: [{ idx: leftSmaIdx, val: leftSmaVal, color: "#e56a6a" }],
  macdIdx: leftMacdIdx, macdVal: leftMacdVal, sigIdx: leftSigIdx, sigVal: leftSigVal,
  levels: leftLevels, levelStart: leftLevelStart, trend: leftTrend,
  dashed: [3.658, 3.716], boxed: [1.2955, 2.1813, 2.938, 3.2691, 3.658, 3.716, 3.9695], labeled: [1.3463],
  shortLines: [1.3463, 2.205, 2.972],
  target: [4.7, 204.7],
  bands: [[161.8, 163.9, 3.72, 2.97], [204.7, 207, 4.7, 3.72]],
  priceTicks: leftPriceTicks, atrTicks: leftAtrTicks, macdTicks: leftMacdTicks, volTicks: leftVolTicks,
  dateIdx: leftDateIdx, dateText: leftDateText,
  priceLegend: [{ w: 75, swatch: ["#35c335", "#e05a5a"], label: "Precio", icons: true }, { w: 62, swatch: ["#e56a6a"], label: "SMA (30)" }],
  tags: [
    [171, 12, "3,9295", "#000", "#ffd21f", "#c8a400"],
    [214, 13, "3,5477", "#e56a6a", "#fff", "#b5c3cc"],
    [765, 13, "0,1532", "#ff0000", "#fff", "#b5c3cc"],
    [817, 13, "0,1539", "#3a3ae0", "#fff", "#b5c3cc"],
    [826, 13, "0,1364", "#e56a6a", "#fff", "#b5c3cc"],
    [839, 13, "0,0175", "#35b035", "#fff", "#b5c3cc"],
    [966, 12, "19,6M", "#35b035", "#fff", "#b5c3cc"]
  ]
});

drawPanel({
  name: "right", left: 889.5, right: 1738, axisEnd: 1778,
  xDomain: [-2, 300], xRange: [887.1, 1772], bodyW: 1.6, barW: 1.9, volW: 1.6,
  priceDomain: [4.1, 2.9], priceRange: [72, 642],
  atrDomain: [.16, .06], atrRange: [685.7, 774],
  macdDomain: [.2, 0], macdRange: [804, 862.3], macdDash: .147,
  volDomain: [150, 0], volRange: [911, 980],
  ohlc: rightOhlc, atr: rightAtr, hist: rightHist, vol: rightVol, volColor: rightVolColor,
  smas: [{ idx: rightRedIdx, val: rightRedVal, color: "#e56a6a" }, { idx: rightGreenIdx, val: rightGreenVal, color: "#2fb52f" }],
  macdIdx: rightMacdIdx, macdVal: rightMacdVal, sigIdx: rightSigIdx, sigVal: rightSigVal,
  levels: rightLevels, levelStart: rightLevelStart, trend: rightTrend,
  dashed: [3.658, 3.716, 3.9035], boxed: [2.938, 3.2691, 3.658, 3.716, 3.9695], labeled: [2.972, 3.9035],
  shortLines: [],
  priceTicks: rightPriceTicks, atrTicks: rightAtrTicks, macdTicks: rightMacdTicks, volTicks: rightVolTicks,
  boldPrice: [4, 3.5, 3], boldAtr: [.1],
  dateIdx: rightDateIdx, dateText: rightDateText,
  priceLegend: [{ w: 75, swatch: ["#35c335", "#e05a5a"], label: "Precio", icons: true }, { w: 67, swatch: ["#e56a6a"], label: "SMA (200)" }, { w: 61, swatch: ["#2fb52f"], label: "SMA (50)" }],
  tags: [
    [134, 13, "3,9295", "#000", "#ffd21f", "#c8a400"],
    [217, 13, "3,7389", "#35b035", "#fff", "#b5c3cc"],
    [362, 12, "3,4257", "#e56a6a", "#fff", "#b5c3cc"],
    [761, 11, "0,0689", "#ff0000", "#fff", "#b5c3cc"],
    [841, 12, "0,0335", "#3a3ae0", "#fff", "#b5c3cc"],
    [849, 12, "0,0305", "#e56a6a", "#fff", "#b5c3cc"],
    [860, 13, "0,0030", "#35b035", "#fff", "#b5c3cc"],
    [966, 12, "19,6M", "#35b035", "#fff", "#b5c3cc"]
  ]
});
</script>
</body>
</html>
